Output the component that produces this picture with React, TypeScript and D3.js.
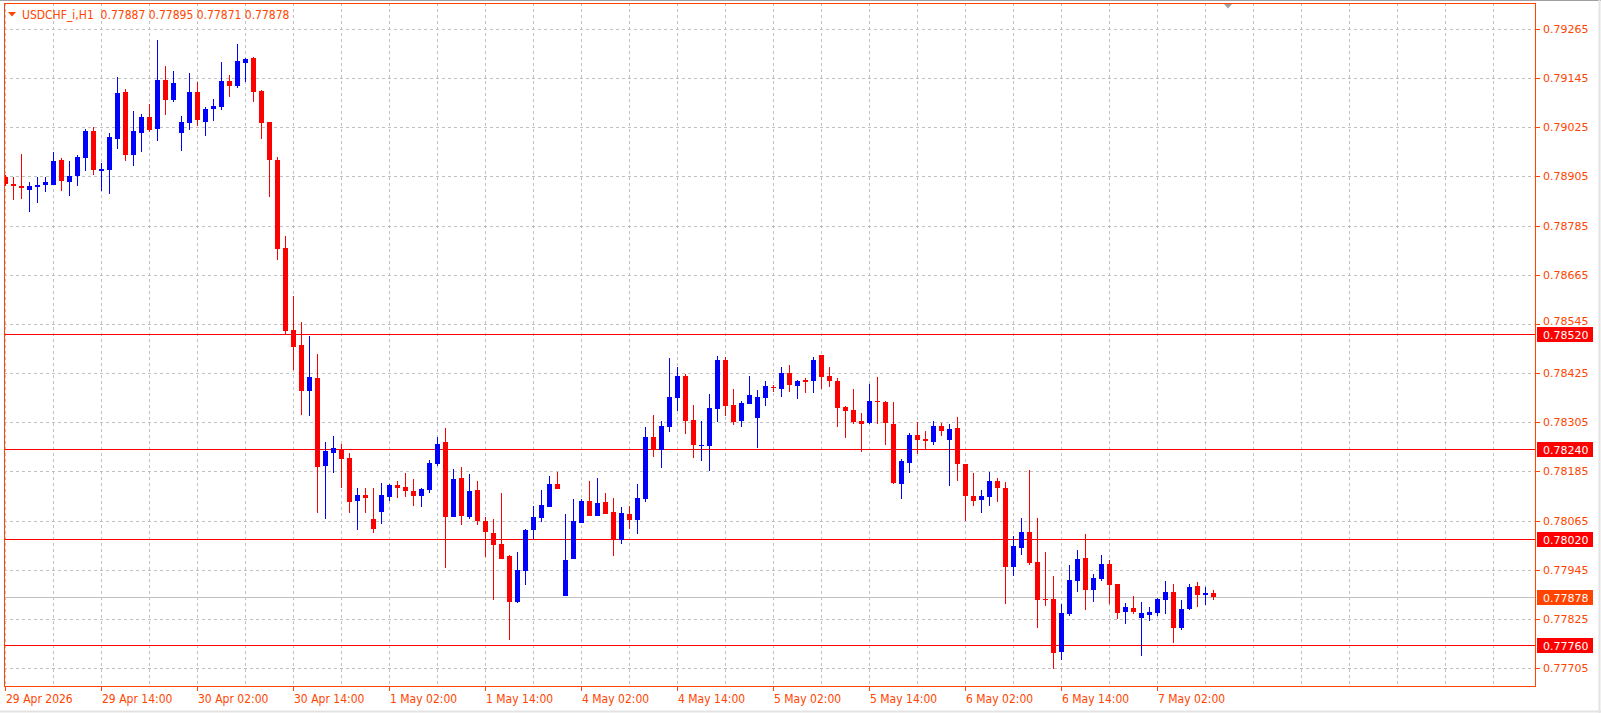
import React from "react";
import * as d3 from "d3";

const W = 1601;
const H = 713;

const symbolTitle = "USDCHF_i,H1";
const dateLabels = [
  "29 Apr 2026", "29 Apr 14:00", "30 Apr 02:00", "30 Apr 14:00", "1 May 02:00",
  "1 May 14:00", "4 May 02:00", "4 May 14:00", "5 May 02:00", "5 May 14:00",
  "6 May 02:00", "6 May 14:00", "7 May 02:00",
];
const priceTicks = [
  0.79265, 0.79145, 0.79025, 0.78905, 0.78785, 0.78665, 0.78545,
  0.78425, 0.78305, 0.78185, 0.78065, 0.77945, 0.77825, 0.77705,
];
const levelLines = [0.7852, 0.7824, 0.7802, 0.7776];
const bidPrice = 0.77878;

const open = [
  0.78904, 0.78886, 0.78881, 0.78872, 0.78879, 0.78884, 0.78884, 0.78944, 0.78891, 0.78906,
  0.7895, 0.79015, 0.78918, 0.78921, 0.78996, 0.7911, 0.78957, 0.79011, 0.79049, 0.79021,
  0.7914, 0.79092, 0.79011, 0.79035, 0.7911, 0.79038, 0.7907, 0.79074, 0.79137, 0.79126,
  0.79182, 0.79193, 0.79113, 0.79037, 0.78944, 0.7873, 0.78529, 0.78493, 0.78381, 0.78412,
  0.78198, 0.7823, 0.78239, 0.78217, 0.78113, 0.78127, 0.78068, 0.78086, 0.78122, 0.78151,
  0.78146, 0.78136, 0.78125, 0.78139, 0.78203, 0.78256, 0.78074, 0.78168, 0.78074, 0.78139,
  0.78063, 0.78034, 0.78007, 0.77978, 0.77866, 0.77942, 0.78042, 0.78071, 0.78098, 0.78153,
  0.77881, 0.77971, 0.78059, 0.78112, 0.78076, 0.78109, 0.78085, 0.78018, 0.7808, 0.78066,
  0.78117, 0.78268, 0.78237, 0.78293, 0.78364, 0.78417, 0.7831, 0.78247, 0.78247, 0.78337,
  0.78456, 0.78346, 0.78308, 0.78349, 0.78315, 0.78364, 0.7839, 0.78386, 0.78424, 0.78393,
  0.78407, 0.78406, 0.78468, 0.78419, 0.78405, 0.78341, 0.78334, 0.78307, 0.78303, 0.78356,
  0.78354, 0.783, 0.78154, 0.78205, 0.78273, 0.78263, 0.78257, 0.78295, 0.78262, 0.7829,
  0.78202, 0.78124, 0.78115, 0.78122, 0.78161, 0.78144, 0.77951, 0.77998, 0.78036, 0.77963,
  0.77873, 0.77873, 0.77744, 0.77837, 0.77917, 0.77973, 0.77895, 0.77922, 0.7796, 0.77909,
  0.77842, 0.77851, 0.77827, 0.77834, 0.77839, 0.77871, 0.7789, 0.77803, 0.77849, 0.77904,
  0.77883, 0.77887,
];
const high = [
  0.78908, 0.78904, 0.78959, 0.78891, 0.78904, 0.78904, 0.78964, 0.78949, 0.78942, 0.78957,
  0.7902, 0.79025, 0.78939, 0.7901, 0.79149, 0.79118, 0.79064, 0.79057, 0.79081, 0.79237,
  0.79174, 0.79162, 0.79052, 0.79157, 0.79135, 0.79074, 0.79093, 0.79184, 0.79152, 0.79228,
  0.79193, 0.79196, 0.79115, 0.79037, 0.78952, 0.78759, 0.78613, 0.78549, 0.78515, 0.78471,
  0.78256, 0.78271, 0.78251, 0.7823, 0.78144, 0.78144, 0.78144, 0.78156, 0.78153, 0.78161,
  0.7818, 0.78166, 0.78144, 0.78212, 0.78269, 0.7829, 0.78192, 0.78195, 0.78178, 0.78161,
  0.78074, 0.78068, 0.78131, 0.77981, 0.77987, 0.78044, 0.781, 0.78139, 0.78173, 0.78183,
  0.7808, 0.78117, 0.78117, 0.78161, 0.78168, 0.78131, 0.78119, 0.78097, 0.781, 0.78153,
  0.78293, 0.78322, 0.78307, 0.78461, 0.78439, 0.78422, 0.78346, 0.78308, 0.78373, 0.78466,
  0.78463, 0.78385, 0.78356, 0.78417, 0.78383, 0.78405, 0.78395, 0.78441, 0.78444, 0.78407,
  0.78412, 0.78463, 0.78468, 0.78441, 0.78412, 0.78344, 0.78385, 0.78327, 0.78398, 0.78415,
  0.78356, 0.78354, 0.78215, 0.78278, 0.78305, 0.78283, 0.78307, 0.78302, 0.783, 0.78317,
  0.78202, 0.7818, 0.78139, 0.78183, 0.7817, 0.78158, 0.78026, 0.7807, 0.78188, 0.7807,
  0.77987, 0.77929, 0.7786, 0.77956, 0.77992, 0.78031, 0.77934, 0.77982, 0.77968, 0.77909,
  0.77863, 0.7788, 0.77865, 0.77853, 0.77877, 0.77917, 0.77909, 0.7787, 0.77909, 0.77914,
  0.77902, 0.77895,
];
const low = [
  0.78881, 0.78847, 0.78849, 0.78818, 0.7884, 0.78866, 0.78884, 0.78869, 0.78857, 0.78882,
  0.78918, 0.78908, 0.78869, 0.78862, 0.78972, 0.78943, 0.7893, 0.78965, 0.79013, 0.78992,
  0.79055, 0.79087, 0.78967, 0.79018, 0.79028, 0.79004, 0.7904, 0.79067, 0.79099, 0.79121,
  0.79136, 0.79087, 0.78996, 0.78855, 0.78701, 0.7852, 0.78432, 0.78323, 0.7832, 0.78083,
  0.78069, 0.78181, 0.78144, 0.78083, 0.78041, 0.78083, 0.78034, 0.78056, 0.78113, 0.7812,
  0.78122, 0.781, 0.78098, 0.78131, 0.78198, 0.77949, 0.78074, 0.78054, 0.78069, 0.78054,
  0.77976, 0.77871, 0.77971, 0.77773, 0.77864, 0.77908, 0.7802, 0.78061, 0.78098, 0.78142,
  0.77881, 0.77971, 0.78059, 0.78076, 0.78076, 0.78081, 0.77978, 0.78008, 0.78044, 0.78032,
  0.7811, 0.7822, 0.78193, 0.78281, 0.78332, 0.78276, 0.78218, 0.7821, 0.78186, 0.78305,
  0.7832, 0.78298, 0.78293, 0.78349, 0.78242, 0.78345, 0.78379, 0.78367, 0.78379, 0.78362,
  0.78376, 0.78376, 0.78386, 0.78391, 0.78293, 0.78266, 0.78301, 0.78232, 0.78301, 0.78301,
  0.78249, 0.78153, 0.78117, 0.78181, 0.78227, 0.7824, 0.78249, 0.78271, 0.78149, 0.78161,
  0.78064, 0.781, 0.78083, 0.781, 0.7811, 0.77861, 0.77929, 0.77981, 0.77956, 0.77803,
  0.77856, 0.77702, 0.77724, 0.77832, 0.7789, 0.77846, 0.77866, 0.77917, 0.77861, 0.77825,
  0.77812, 0.77837, 0.77734, 0.7782, 0.77832, 0.77837, 0.77766, 0.77798, 0.77846, 0.77854,
  0.77858, 0.77871,
];
const close = [
  0.78886, 0.78882, 0.78877, 0.78881, 0.78884, 0.78891, 0.78942, 0.78894, 0.78905, 0.78952,
  0.79015, 0.78921, 0.78922, 0.79001, 0.79108, 0.78957, 0.79015, 0.79049, 0.79018, 0.7914,
  0.79092, 0.79132, 0.79037, 0.7911, 0.79043, 0.79069, 0.79076, 0.79137, 0.79126, 0.79186,
  0.79191, 0.79111, 0.79035, 0.78945, 0.78728, 0.78528, 0.78489, 0.78381, 0.78415, 0.78196,
  0.78234, 0.78241, 0.78215, 0.7811, 0.78127, 0.7812, 0.78044, 0.78127, 0.78151, 0.78144,
  0.78137, 0.78125, 0.78141, 0.78205, 0.78253, 0.78074, 0.78166, 0.78076, 0.78136, 0.78064,
  0.78037, 0.78005, 0.77971, 0.77866, 0.77943, 0.78041, 0.78073, 0.78102, 0.78153, 0.78142,
  0.77968, 0.78063, 0.78112, 0.78076, 0.78107, 0.78081, 0.78018, 0.78083, 0.78066, 0.78119,
  0.78268, 0.78237, 0.78295, 0.78366, 0.78419, 0.78308, 0.78249, 0.78249, 0.78339, 0.78456,
  0.78345, 0.78305, 0.78351, 0.78371, 0.78366, 0.78393, 0.78388, 0.78424, 0.78396, 0.78405,
  0.78403, 0.78456, 0.78415, 0.78406, 0.7834, 0.78332, 0.78305, 0.78301, 0.78356, 0.78354,
  0.78303, 0.78156, 0.7821, 0.78275, 0.78262, 0.78259, 0.78295, 0.78283, 0.78288, 0.78203,
  0.78125, 0.78113, 0.78124, 0.78161, 0.78144, 0.77951, 0.78002, 0.78036, 0.77961, 0.77871,
  0.77871, 0.77742, 0.77838, 0.77919, 0.7797, 0.77895, 0.77924, 0.7796, 0.77908, 0.77839,
  0.77853, 0.77842, 0.77838, 0.77841, 0.77873, 0.7789, 0.77803, 0.77848, 0.77902, 0.77883,
  0.77887, 0.77878,
];

// frame of the price pane
const frame = { left: 4, top: 3, right: 1535, bottom: 686 };
const axisColor = "#FF4500";
const gridColor = "#C0C0C0";
const bullColor = "#0000FF";
const bearColor = "#FF0000";
const narrowFont = "'DejaVu Sans Condensed', 'Liberation Sans Narrow', sans-serif";
const priceFont = "'DejaVu Sans', Verdana, sans-serif";

const App: React.FC = () => {
  const barStep = 8;
  const x = d3.scaleLinear().domain([0, 1]).range([5.5, 5.5 + barStep]);
  const y = d3
    .scaleLinear()
    .domain([priceTicks[0], priceTicks[priceTicks.length - 1]])
    .range([29, 29 + (priceTicks.length - 1) * 49.152]);

  const crisp = (v: number) => Math.round(v) + 0.5;
  const fmt = d3.format(".5f");

  // grid every 6 bars, labels every 12
  const gridIdx = d3.range(0, 200, 6).filter((i) => x(i) < frame.right);
  const last = close.length - 1;
  const lastTitle = `${symbolTitle}  ${fmt(open[last])} ${fmt(high[last])} ${fmt(low[last])} ${fmt(close[last])}`;

  // price tags on the right axis
  const tags = [
    ...levelLines.map((p) => ({ p, fill: "#FF0000" })),
    { p: bidPrice, fill: "#FF4500" },
  ];
  const tickLabelY = (p: number) => {
    let ty = y(p);
    tags.forEach((t) => {
      const d = ty - y(t.p);
      if (Math.abs(d) < 13) ty = y(t.p) + (d < 0 ? -13.5 : 13.5);
    });
    return ty;
  };

  return (
    <svg
      width={W}
      height={H}
      style={{ position: "absolute", left: 0, top: 0, background: "#fff" }}
    >
      <defs>
        <clipPath id="pane">
          <rect
            x={frame.left + 1}
            y={frame.top + 1}
            width={frame.right - frame.left - 1}
            height={frame.bottom - frame.top - 1}
          />
        </clipPath>
      </defs>
      <rect x={0} y={0} width={W} height={H} fill="#fff" />
      <line x1={0} x2={W} y1={0.5} y2={0.5} stroke="#A0A0A0" />
      <line x1={0} x2={W} y1={H - 1.5} y2={H - 1.5} stroke="#E3E3E3" strokeWidth={2} />
      <line x1={W - 1.5} x2={W - 1.5} y1={0} y2={H} stroke="#E3E3E3" strokeWidth={2} />

      <g clipPath="url(#pane)">
        {/* grid */}
        {priceTicks.map((p) => (
          <line
            key={"hg" + p}
            x1={frame.left}
            x2={frame.right}
            y1={crisp(y(p))}
            y2={crisp(y(p))}
            stroke={gridColor}
            strokeDasharray="3,3"
          />
        ))}
        {gridIdx.map((i) => (
          <line
            key={"vg" + i}
            x1={crisp(x(i) - 0.5)}
            x2={crisp(x(i) - 0.5)}
            y1={frame.top}
            y2={frame.bottom}
            stroke={gridColor}
            strokeDasharray="3,3"
          />
        ))}

        {/* horizontal levels and bid line */}
        {levelLines.map((p) => (
          <line
            key={"lv" + p}
            x1={frame.left}
            x2={frame.right}
            y1={crisp(y(p))}
            y2={crisp(y(p))}
            stroke="#FF0000"
          />
        ))}
        <line
          x1={frame.left}
          x2={frame.right}
          y1={crisp(y(bidPrice))}
          y2={crisp(y(bidPrice))}
          stroke="#C0C0C0"
        />

        {/* candles */}
        {close.map((c, i) => {
          const o = open[i];
          const color = c >= o ? bullColor : bearColor;
          const cx = x(i);
          const yh = Math.round(y(high[i]));
          const yl = Math.round(y(low[i]));
          const yt = Math.round(y(Math.max(o, c)));
          const yb = Math.round(y(Math.min(o, c)));
          return (
            <g key={i} fill={color}>
              <rect x={cx - 0.5} y={yh} width={1} height={Math.max(1, yl - yh)} />
              <rect x={cx - 2.5} y={yt} width={5} height={Math.max(1, yb - yt)} />
            </g>
          );
        })}
      </g>

      {/* title */}
      <polygon points="8,12 16,12 12,16.5" fill={axisColor} />
      <text
        x={22}
        y={19}
        fill={axisColor}
        fontFamily={narrowFont}
        fontSize={12}
        style={{ whiteSpace: "pre" }}
      >
        {lastTitle}
      </text>

      {/* chart shift marker */}
      <polygon points="1224,4 1232,4 1228,8.5" fill="#A0A0A0" />

      {/* frame */}
      <rect
        x={frame.left + 0.5}
        y={frame.top + 0.5}
        width={frame.right - frame.left}
        height={frame.bottom - frame.top}
        fill="none"
        stroke={axisColor}
      />

      {/* price axis */}
      {priceTicks.map((p) => (
        <g key={"pt" + p}>
          <line
            x1={frame.right}
            x2={frame.right + 5}
            y1={crisp(y(p))}
            y2={crisp(y(p))}
            stroke={axisColor}
          />
          <text
            x={frame.right + 8}
            y={tickLabelY(p) + 4}
            fill={axisColor}
            fontFamily={priceFont}
            fontSize={11}
          >
            {fmt(p)}
          </text>
        </g>
      ))}
      {tags.map((t) => (
        <g key={"tag" + t.p}>
          <rect x={frame.right + 2} y={Math.round(y(t.p)) - 7} width={56} height={15} fill={t.fill} />
          <text
            x={frame.right + 8}
            y={Math.round(y(t.p)) + 4.5}
            fill="#fff"
            fontFamily={priceFont}
            fontSize={11}
          >
            {fmt(t.p)}
          </text>
        </g>
      ))}

      {/* time axis */}
      {dateLabels.map((lab, k) => {
        const tx = x(k * 12) - 0.5;
        return (
          <g key={lab}>
            <line
              x1={crisp(tx)}
              x2={crisp(tx)}
              y1={frame.bottom}
              y2={frame.bottom + 5}
              stroke={axisColor}
            />
            <text
              x={Math.round(tx) + 1}
              y={frame.bottom + 17}
              fill={axisColor}
              fontFamily={narrowFont}
              fontSize={12}
            >
              {lab}
            </text>
          </g>
        );
      })}
    </svg>
  );
};

export default App;
